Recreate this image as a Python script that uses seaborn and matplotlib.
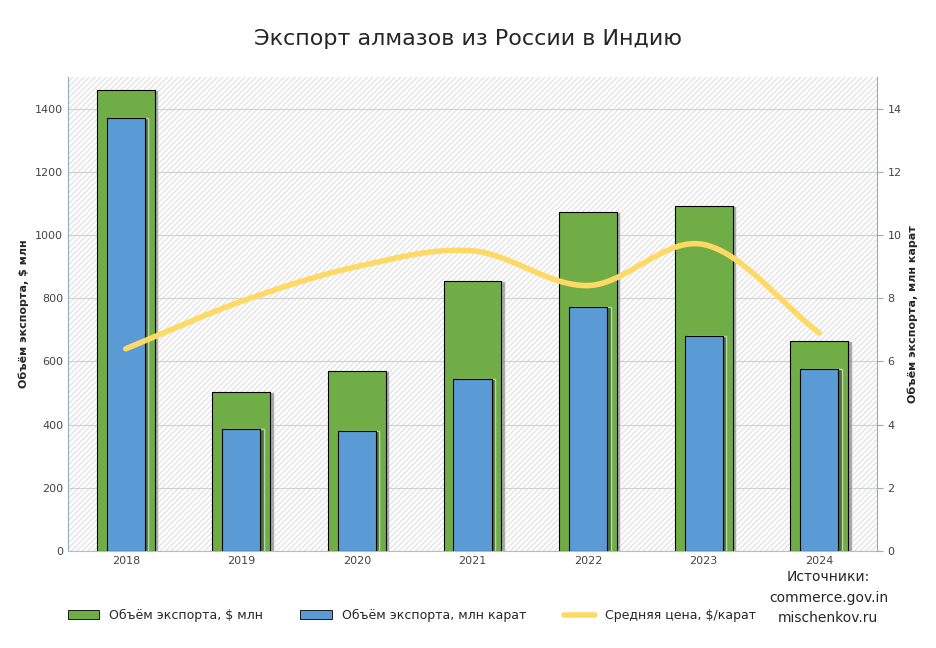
import numpy as np
import pandas as pd
import matplotlib.pyplot as plt
import seaborn as sns
from matplotlib.lines import Line2D
from matplotlib.patches import Patch

years = ["2018", "2019", "2020", "2021", "2022", "2023", "2024"]
export_usd = [1460, 503, 570, 855, 1073, 1093, 665]          # $ млн (left axis)
export_carat = [13.7, 3.87, 3.8, 5.43, 7.73, 6.8, 5.75]      # млн карат (right axis)
avg_price = [6.4, 7.9, 9.0, 9.5, 8.4, 9.7, 6.9]               # plotted on right axis scale

green = "#70ad47"
blue = "#5b9bd5"
yellow = "#ffd966"

sns.set_style("white")
plt.rcParams["font.family"] = "DejaVu Sans"

fig = plt.figure(figsize=(9.36, 6.48), dpi=100)
ax = fig.add_axes([68 / 936, 97 / 648, 809 / 936, 474 / 648])
ax2 = ax.twinx()

df = pd.DataFrame({"year": years, "usd": export_usd, "carat": [v * 100 for v in export_carat]})
x = np.arange(len(years))

# hatched background
ax.set_facecolor("white")
ax.add_patch(plt.Rectangle((0, 0), 1, 1, transform=ax.transAxes, facecolor="none",
                           hatch="//////", edgecolor="#e4e4e4", lw=0, zorder=0))
ax.grid(True, color="#d0d0d0", lw=0.8, zorder=0.5)
ax.set_axisbelow(True)

# shadows
ax.bar(x + 0.03, df["usd"], width=0.5, color="#555555", alpha=0.5, zorder=1)
sns.barplot(data=df, x="year", y="usd", color=green, width=0.5, edgecolor="black",
            linewidth=0.8, saturation=1, ax=ax, zorder=2)
ax.bar(x + 0.03, df["carat"], width=0.33, color="#2d4a2a", alpha=0.6, zorder=3)
ax.bar(x, df["carat"], width=0.33, color=blue, edgecolor="black", linewidth=0.8, zorder=4)

# smooth price line (Catmull-Rom through the data points, drawing only)
p = np.array(avg_price)
pts = np.concatenate([[2 * p[0] - p[1]], p, [2 * p[-1] - p[-2]]])
xs, ys = [], []
for i in range(len(p) - 1):
    t = np.linspace(0, 1, 30)
    p0, p1, p2, p3 = pts[i:i + 4]
    ys.append(0.5 * (2 * p1 + (-p0 + p2) * t + (2 * p0 - 5 * p1 + 4 * p2 - p3) * t ** 2
                     + (-p0 + 3 * p1 - 3 * p2 + p3) * t ** 3))
    xs.append(i + t)
ax2.plot(np.concatenate(xs), np.concatenate(ys), color=yellow, lw=4, solid_capstyle="round", zorder=5)
ax2.set_zorder(ax.get_zorder() + 1)
ax2.patch.set_visible(False)

ax.set_xlim(-0.5, 6.5)
ax.set_ylim(0, 1500)
ax2.set_ylim(0, 15)
ax.set_yticks(range(0, 1401, 200))
ax2.set_yticks(range(0, 15, 2))
ax.set_xlabel("")
ax.set_ylabel("Объём экспорта, $ млн", fontsize=8, fontweight="bold")
ax2.set_ylabel("Объём экспорта, млн карат", fontsize=8, fontweight="bold")
ax.tick_params(labelsize=8, colors="#444444", length=0)
ax2.tick_params(labelsize=8, colors="#444444", length=4, color="#8fb0b5")
for a in (ax, ax2):
    for s in a.spines.values():
        s.set_visible(False)
ax.spines["left"].set_visible(True)
ax.spines["left"].set_color("#8fb0b5")
ax2.spines["right"].set_visible(True)
ax2.spines["right"].set_color("#8fb0b5")
ax.spines["bottom"].set_visible(True)
ax.spines["bottom"].set_color("#bbbbbb")

fig.suptitle("Экспорт алмазов из России в Индию", y=0.955, fontsize=16)

handles = [Patch(facecolor=green, edgecolor="black", lw=0.6),
           Patch(facecolor=blue, edgecolor="black", lw=0.6),
           Line2D([], [], color=yellow, lw=4)]
fig.legend(handles, ["Объём экспорта, $ млн", "Объём экспорта, млн карат", "Средняя цена, $/карат"],
           loc="center", bbox_to_anchor=(0.44, 0.05), ncol=3, frameon=False, fontsize=9,
           handlelength=2.5, columnspacing=3)
fig.text(0.885, 0.035, "Источники:\ncommerce.gov.in\nmischenkov.ru", ha="center", va="bottom",
         fontsize=10, linespacing=1.6)

fig.savefig("out.png", dpi=100)
